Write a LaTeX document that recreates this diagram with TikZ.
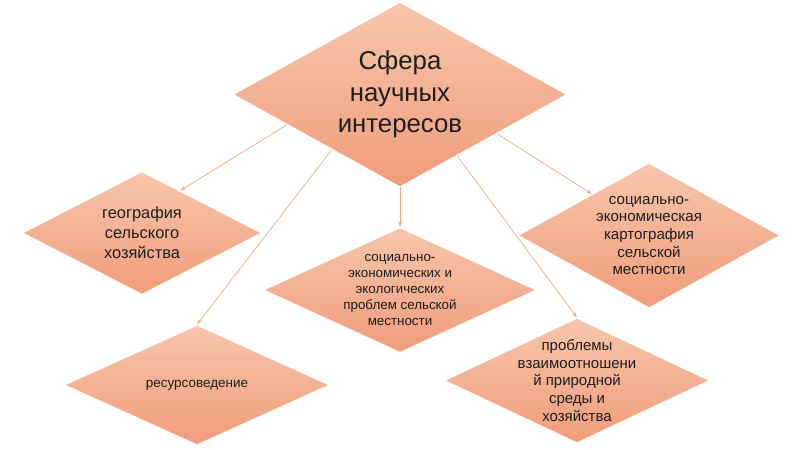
\documentclass[tikz,border=0pt]{standalone}
\usepackage{fontspec}
\setmainfont{Liberation Sans}
\usetikzlibrary{arrows, arrows.meta, shapes.geometric}
\definecolor{peachtop}{RGB}{247,198,172}
\definecolor{peachbot}{RGB}{240,156,122}
\definecolor{linkline}{RGB}{240,168,136}
\definecolor{inktext}{RGB}{30,30,30}
\tikzset{cell/.style = {shape = diamond, draw = white, line width = 0.8pt, top color = peachtop, bottom color = peachbot, inner sep = 0pt}}
\tikzset{caption/.style = {align = center, text = inktext, inner sep = 0pt}}
\tikzset{link/.style = {->, > = latex', draw = linkline, line width = 0.6pt}}

\begin{document}
\begin{tikzpicture}[x = 0.03cm, y = -0.03cm]
				\useasboundingbox (0, 0) rectangle (800, 450);

				\node[cell, minimum width = 10.02cm, minimum height = 5.55cm,
					label = {[caption, font = \fontsize{22}{27}\selectfont]center:{Сфера\\научных\\интересов}}] (sfera) at (400, 94.5) {};
				\node[cell, minimum width = 7.17cm, minimum height = 3.69cm,
					label = {[caption, font = \fontsize{14}{17}\selectfont]center:{география\\сельского\\хозяйства}}] (geo) at (142, 233) {};
				\node[cell, minimum width = 8.19cm, minimum height = 3.75cm,
					label = {[caption, font = \fontsize{11.4}{13.6}\selectfont]center:{социально-\\экономических и\\экологических\\проблем сельской\\местности}}] (problems) at (400, 290) {};
				\node[cell, minimum width = 7.86cm, minimum height = 4.35cm,
					label = {[caption, font = \fontsize{12.9}{15}\selectfont]center:{социально-\\экономическая\\картография\\сельской\\местности}}] (carto) at (649, 235.5) {};
				\node[cell, minimum width = 7.95cm, minimum height = 3.6cm,
					label = {[caption, font = \fontsize{11.5}{14}\selectfont]center:{ресурсоведение}}] (resource) at (197, 385) {};
				\node[cell, minimum width = 7.95cm, minimum height = 3.75cm,
					label = {[caption, font = \fontsize{12.8}{15}\selectfont]center:{проблемы\\взаимоотношени\\й природной\\среды и\\хозяйства}}] (nature) at (577, 380.5) {};

				\draw[link] (sfera.195.5) to (geo.48.5);
				\draw[link] (sfera.219.2) to (resource.north);
				\draw[link] (sfera.south) to (problems.north);
				\draw[link] (sfera.313.8) to (nature.north);
				\draw[link] (sfera.338.6) to (carto.144.7);
			\end{tikzpicture}
\end{document}
